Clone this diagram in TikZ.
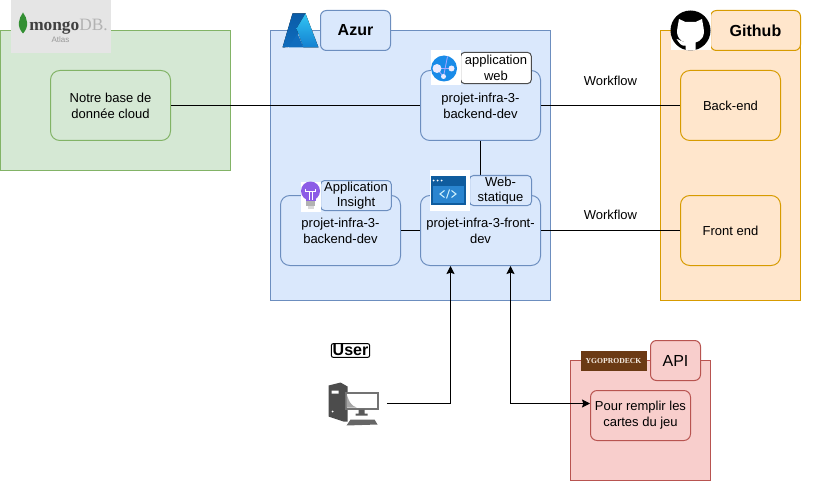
\documentclass[tikz,border=0pt]{standalone}
\usepackage{fontspec}
\setmainfont{Liberation Sans}
\newfontfamily\logofont{Liberation Serif}
\usetikzlibrary{arrows.meta}
\definecolor{greenfill}{HTML}{D5E8D4}
\definecolor{greenline}{HTML}{82B366}
\definecolor{bluefill}{HTML}{DAE8FC}
\definecolor{blueline}{HTML}{6C8EBF}
\definecolor{orangefill}{HTML}{FFE6CC}
\definecolor{orangeline}{HTML}{D79B00}
\definecolor{redfill}{HTML}{F8CECC}
\definecolor{redline}{HTML}{B85450}
\tikzstyle{panel} = [rectangle, minimum width=105pt, minimum height=202.5pt, inner sep=0pt, line width=.75pt]
\tikzstyle{module} = [rectangle, rounded corners=7pt, minimum width=90pt, minimum height=52.5pt, inner sep=0pt, align=center, line width=.75pt, font=\fontsize{9.75}{12}\selectfont]
\tikzstyle{titlebox} = [rectangle, rounded corners=4.5pt, minimum width=52.5pt, minimum height=30pt, inner sep=0pt, line width=.75pt, font=\fontsize{12}{14}\selectfont\bfseries]
\tikzstyle{tagbox} = [rectangle, rounded corners=3pt, inner sep=0pt, align=center, line width=.75pt, font=\fontsize{9.75}{11.5}\selectfont]
\tikzstyle{whitebg} = [rectangle, fill=white, inner sep=0pt]
\tikzstyle{edge} = [line width=.75pt]
\tikzstyle{arrow} = [line width=.75pt,->,>={Stealth[length=6pt,width=6pt,inset=1pt]}]
\begin{document}
\begin{tikzpicture}[x=.75pt, y=-.75pt, node distance=93.75pt]
\useasboundingbox (-0.5,-0.5) rectangle (820.5,480.5);

% panels
\node (mongopanel) [panel, minimum width=172.5pt, minimum height=105pt, fill=greenfill, draw=greenline] at (115,100) {};
\node (azurpanel) [panel, minimum width=210pt, fill=bluefill, draw=blueline] at (410,165) {};
\node (gitpanel) [panel, fill=orangefill, draw=orangeline] at (730,165) {};
\node (apipanel) [panel, minimum height=90pt, fill=redfill, draw=redline] at (640,420) {};

% boxes
\node (dbnode) [module, fill=greenfill, draw=greenline] at (110,105) {Notre base de\\donnée cloud};
\node (backapp) [module, fill=bluefill, draw=blueline] at (480,105) {projet-infra-3-\\backend-dev};
\node (frontapp) [module, fill=bluefill, draw=blueline, below of=backapp] {projet-infra-3-front-\\dev};
\node (insight) [module, fill=bluefill, draw=blueline, left of=frontapp, xshift=-11.25pt] {projet-infra-3-\\backend-dev};
\node (gitback) [module, minimum width=75pt, fill=orangefill, draw=orangeline] at (730,105) {Back-end};
\node (gitfront) [module, minimum width=75pt, fill=orangefill, draw=orangeline, below of=gitback] {Front end};
\node (apinode) [module, rounded corners=5pt, minimum width=75pt, minimum height=37.5pt, fill=redfill, draw=redline] at (640,415) {Pour remplir les\\cartes du jeu};
\node (computer) [rectangle, minimum width=49.5pt, minimum height=33pt, inner sep=0pt] at (353,403) {};

% connectors
\draw [edge] (dbnode) -- (backapp);
\draw [edge] (backapp) -- (gitback) node [midway, above, yshift=11.5pt, font=\fontsize{9.75}{11}\selectfont] (flowback) {Workflow};
\draw [edge] (backapp) -- (frontapp);
\draw [edge] (insight) -- (frontapp);
\draw [edge] (frontapp) -- (gitfront) node [midway, above, yshift=4.25pt, font=\fontsize{9.75}{11}\selectfont] (flowfront) {Workflow};
\draw [arrow] (computer.east) -| ([xshift=-22.5pt]frontapp.south);
\draw [arrow, <->] ([xshift=22.5pt]frontapp.south) |- ([yshift=9pt]apinode.west);

% titles
\node (azurtitle) [titlebox, fill=bluefill, draw=blueline] at (355,30) {Azur};
\node (gittitle) [titlebox, minimum width=67.5pt, fill=orangefill, draw=orangeline] at (755,30) {Github};
\node (apititle) [titlebox, minimum width=37.5pt, fill=redfill, draw=redline, font=\fontsize{12}{14}\selectfont] at (675,360) {API};
\node (usertitle) [rectangle, draw=black, rounded corners=1.5pt, inner sep=1pt, line width=.75pt, font=\fontsize{12}{14}\selectfont\bfseries] at (350,350) {User};

% tags
\node (webtag) [tagbox, fill=white, draw=black!70, minimum width=53pt, minimum height=23.5pt] at (495.5,67.5) {application\\web};
\node (inserttag) [tagbox, fill=bluefill, draw=blueline, minimum width=53pt, minimum height=22.5pt] at (355.5,195) {Application\\Insight};
\node (statictag) [tagbox, fill=bluefill, draw=blueline, minimum width=46.5pt, minimum height=22.5pt] at (500,190) {Web-\\statique};

% mongo logo
\node (mongologo) [rectangle, fill=black!10, minimum width=75pt, minimum height=39.75pt, inner sep=0pt] at (60,26.5) {};
\fill [green!45!black!80] (22.5,12) .. controls (18,18) and (16,26) .. (22.5,33) .. controls (29,26) and (27,18) .. (22.5,12);
\node (mongotext) [inner sep=0pt, font=\logofont\fontsize{13}{14}\selectfont] at (68,26) {\textcolor{black!75}{\textbf{mongo}}\textcolor{black!30}{DB.}};
\node (atlastext) [inner sep=0pt, text=black!40, font=\fontsize{6}{7}\selectfont] at (60,39) {Atlas};

% azure logo
\definecolor{azdark}{HTML}{0A5CA8}
\definecolor{azmid}{HTML}{0F6CBD}
\definecolor{azlight}{HTML}{32C5F4}
\definecolor{azlow}{HTML}{1380D0}
\fill [top color=azdark, bottom color=azmid] (292,13) -- (305,13) -- (293,46) -- (282,47) -- cycle;
\fill [top color=azlight, bottom color=azlow] (305,13) -- (318,47) -- (303,47) -- (296,28) -- cycle;
\fill [azmid] (297,33) -- (303,47) -- (288,47) -- cycle;

% web app icon
\node (webicon) [whitebg, minimum width=22.5pt, minimum height=26.25pt] at (445,67.5) {};
\fill [blue!45!cyan!90!black!90] (443.5,68) circle (13);
\draw [white!65!blue, line width=.6pt] (436,68) -- (451,68) (447,56) -- (443,76) (436,68) -- (443,76);
\fill [white!92!blue] (436.5,68) circle (4.5) (451,68) circle (3) (443,76) circle (2.5);

% code icon
\definecolor{codebar}{HTML}{0F5C9E}
\definecolor{codebody}{HTML}{2A85D0}
\node (codeicon) [whitebg, minimum width=30pt, minimum height=30pt] at (449,190) {};
\fill [codebar] (430,176) rectangle (465,204);
\fill [codebody] (432,185) rectangle (463,202);
\fill [white] (433,180) circle (1) (437,180) circle (1) (441,180) circle (1);
\draw [white!80!cyan, line width=.8pt] (444,190) -- (439.5,193.5) -- (444,197) (451,190) -- (455.5,193.5) -- (451,197) (449,189) -- (446,198);

% insight icon
\definecolor{bulbcolor}{HTML}{8C5CE6}
\node (bulbicon) [whitebg, minimum width=15pt, minimum height=22.5pt] at (310,196) {};
\fill [black!30] (305.5,199) rectangle (314.5,205);
\fill [black!15] (307,205) rectangle (313,208);
\fill [bulbcolor] (310,190.5) circle (9.5);
\fill [bulbcolor] (305,196) rectangle (315,200);
\draw [white, line width=.6pt] (305,188) -- (305,191) -- (315,191) -- (315,188) (308.5,191) -- (308.5,199) (311.5,191) -- (311.5,199);

% github icon
\node (giticon) [whitebg, minimum width=30pt, minimum height=30pt] at (690,30) {};
\fill [black] (690,30) circle (20);
\fill [white] (678.5,18.5) -- (685,21.5) -- (695,21.5) -- (701.5,18.5) -- (703,27) .. controls (705,36) and (700,41) .. (695,42) -- (695,50) -- (685,50) -- (685,45) .. controls (681,46) and (679,43) .. (676,38.5) .. controls (680,39) and (681,42) .. (685,42) .. controls (680,41) and (675,36) .. (677,27) -- cycle;

% ygoprodeck logo
\definecolor{ygobrown}{HTML}{6B3A14}
\node (ygologo) [rectangle, fill=ygobrown, minimum width=49.5pt, minimum height=15pt, inner sep=0pt, text=white!85!brown, font=\logofont\fontsize{5.75}{7}\selectfont\bfseries] at (613,360) {YGOPRODECK};

% computer icon
\fill [black!70] (328,385) -- (340,382) -- (347,386) -- (347,421) -- (343,421) -- (328,416) -- cycle;
\fill [white] (331,390) rectangle (338,393) (332,411) circle (1);
\fill [black!55] (344,391) rectangle (378,409);
\fill [white] (346,393) rectangle (376,407);
\fill [black!35] (346,393) .. controls (348,400) and (350,405) .. (356,407) -- (346,407) -- cycle;
\fill [black!65] (358,409) rectangle (364,413) (355,413) rectangle (367,415);
\fill [black!60] (350,419) -- (374,419) -- (377,424) -- (346,425) -- cycle;

\end{tikzpicture}
\end{document}
